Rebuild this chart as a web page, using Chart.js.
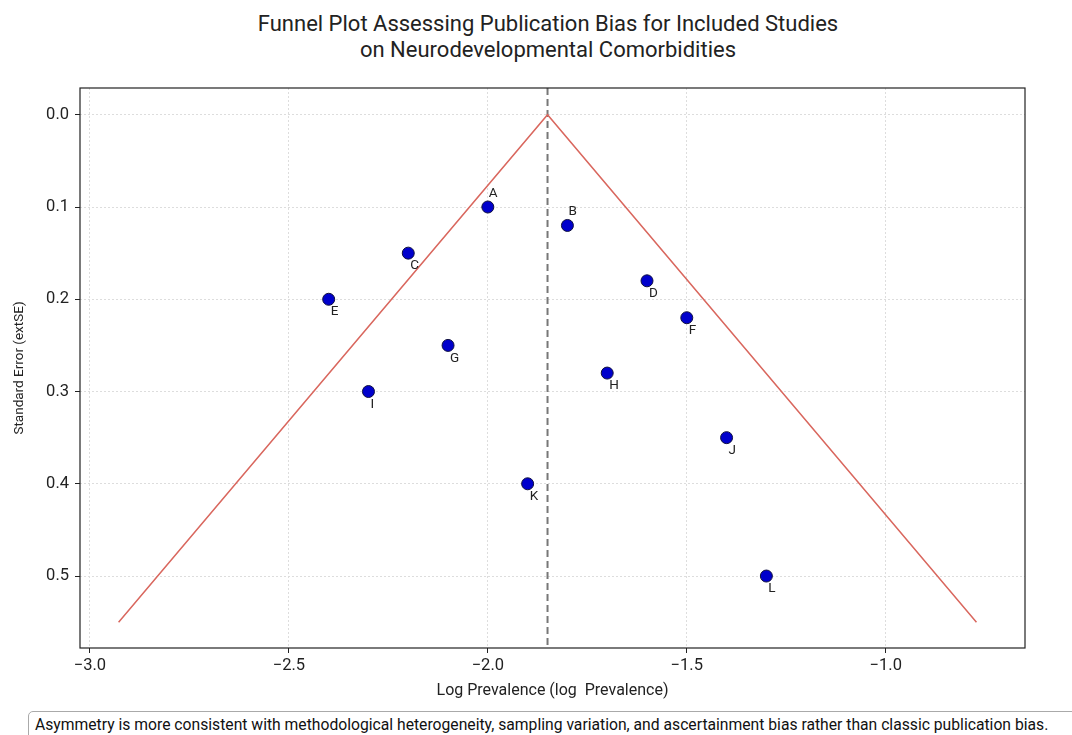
<!DOCTYPE html>
<html>
<head>
<meta charset="utf-8">
<script src="https://cdn.jsdelivr.net/npm/chart.js@4.4.1/dist/chart.umd.min.js"></script>
<style>
    html, body { margin: 0; padding: 0; background: #fff; }
    body { width: 1072px; height: 735px; position: relative; overflow: hidden; font-family: Roboto, "Open Sans", sans-serif; }
    #title { position: absolute; left: 0; top: 11px; width: 1096px; text-align: center; font-size: 22px; line-height: 26px; color: #222; }
    #wrap { position: absolute; left: 0; top: 0; width: 1072px; height: 705px; }
    #note { position: absolute; left: 28px; top: 711px; width: 1050px; height: 32px; border: 1px solid #aaa; border-radius: 5px; padding: 3px 0 0 6px; font-size: 15.7px; color: #111; box-sizing: border-box; white-space: nowrap; }
</style>
</head>
<body>
<div id="title">Funnel Plot Assessing Publication Bias for Included Studies<br>on Neurodevelopmental Comorbidities</div>
<div id="wrap"><canvas id="funnel"></canvas></div>
<div id="note">Asymmetry is more consistent with methodological heterogeneity, sampling variation, and ascertainment bias rather than classic publication bias.</div>
<script>
// study data
var studyLabels = ['A', 'B', 'C', 'D', 'E', 'F', 'G', 'H', 'I', 'J', 'K', 'L'];
var logPrev = [-2.0, -1.8, -2.2, -1.6, -2.4, -1.5, -2.1, -1.7, -2.3, -1.4, -1.9, -1.3];
var stdErr = [0.10, 0.12, 0.15, 0.18, 0.20, 0.22, 0.25, 0.28, 0.30, 0.35, 0.40, 0.50];

// pooled estimate and funnel (± 1.96 SE)
var pooled = -1.85;
var funnelSE = [0.55, 0.0, 0.55];
var xTicks = [-3.0, -2.5, -2.0, -1.5, -1.0];
var yTicks = [0.0, 0.1, 0.2, 0.3, 0.4, 0.5];

var xMin = -3.025, xMax = -0.65;
var yMin = -0.029, yMax = 0.578;

var funnelPts = funnelSE.map(function (se, i) {
    var sign = i === 0 ? -1 : 1;
    return { x: pooled + sign * 1.96 * se, y: se };
});

var studyPts = logPrev.map(function (v, i) {
    return { x: v, y: stdErr[i] };
});

var frameAndLabels = {
    id: 'frameAndLabels',
    afterDatasetsDraw: function (chart) {
        var ctx = chart.ctx;
        var a = chart.chartArea;
        var xs = chart.scales.x, ys = chart.scales.y;
        ctx.save();
        ctx.font = '13.5px Roboto, sans-serif';
        ctx.fillStyle = '#222';
        ctx.textAlign = 'left';
        studyPts.forEach(function (p, i) {
            var px = xs.getPixelForValue(p.x);
            var py = ys.getPixelForValue(p.y);
            if (i < 2) {
                ctx.textBaseline = 'bottom';
                ctx.fillText(studyLabels[i], px + 1, py - 7);
            } else {
                ctx.textBaseline = 'top';
                ctx.fillText(studyLabels[i], px + 2, py + 6);
            }
        });
        ctx.strokeStyle = '#222';
        ctx.lineWidth = 1.2;
        ctx.strokeRect(a.left, a.top, a.right - a.left, a.bottom - a.top);
        ctx.restore();
    }
};

new Chart(document.getElementById('funnel'), {
    type: 'scatter',
    data: {
        datasets: [
            {
                label: 'Funnel',
                data: funnelPts,
                showLine: true,
                borderColor: '#d9675e',
                borderWidth: 1.5,
                pointRadius: 0,
                fill: false
            },
            {
                label: 'Pooled',
                data: [{ x: pooled, y: yMin }, { x: pooled, y: yMax }],
                showLine: true,
                borderColor: '#777',
                borderWidth: 2,
                borderDash: [7, 4],
                pointRadius: 0
            },
            {
                label: 'Studies',
                data: studyPts,
                backgroundColor: '#0000cc',
                borderColor: '#101040',
                borderWidth: 1,
                pointRadius: 6
            }
        ]
    },
    options: {
        responsive: true,
        maintainAspectRatio: false,
        animation: false,
        layout: { padding: { top: 88, right: 47, left: 8, bottom: 0 } },
        plugins: {
            legend: { display: false },
            tooltip: { enabled: false }
        },
        scales: {
            x: {
                type: 'linear',
                min: xMin,
                max: xMax,
                afterBuildTicks: function (axis) {
                    axis.ticks = xTicks.map(function (v) { return { value: v }; });
                },
                afterFit: function (axis) { axis.height = 57; },
                ticks: {
                    color: '#222',
                    font: { size: 16.5, family: 'Roboto' },
                    padding: 3,
                    maxRotation: 0,
                    callback: function (v) { return v.toFixed(1).replace('-', '\u2212'); }
                },
                grid: { color: '#dddddd', lineWidth: 1, tickColor: '#222', tickLength: 5, tickBorderDash: [] },
                border: { display: false, dash: [2, 2] },
                title: { display: true, text: 'Log Prevalence (log  Prevalence)', color: '#222', font: { size: 16, family: 'Roboto' }, padding: { top: 1 } }
            },
            y: {
                type: 'linear',
                reverse: true,
                min: yMin,
                max: yMax,
                afterBuildTicks: function (axis) {
                    axis.ticks = yTicks.map(function (v) { return { value: v }; });
                },
                afterFit: function (axis) { axis.width = 72; },
                ticks: {
                    color: '#222',
                    font: { size: 16.5, family: 'Roboto' },
                    padding: 6,
                    callback: function (v) { return v.toFixed(1); }
                },
                grid: { color: '#dddddd', lineWidth: 1, tickColor: '#222', tickLength: 5, tickBorderDash: [] },
                border: { display: false, dash: [2, 2] },
                title: { display: true, text: 'Standard Error (extSE)', color: '#222', font: { size: 13.5, family: 'Roboto' }, padding: { bottom: 1 } }
            }
        }
    },
    plugins: [frameAndLabels]
});
</script>
</body>
</html>
